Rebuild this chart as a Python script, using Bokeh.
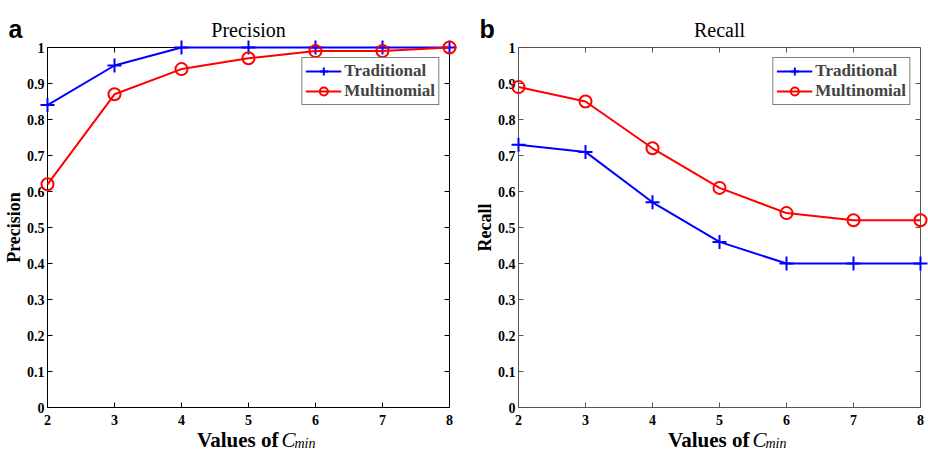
import math
from bokeh.plotting import figure
from bokeh.layouts import row
from bokeh.models import Range1d, FixedTicker, Legend, LegendItem
from bokeh.core.properties import value
from bokeh.embed import file_html
from bokeh.resources import INLINE

# ---- data ----
c_min = [2, 3, 4, 5, 6, 7, 8]
precision_traditional = [0.84, 0.95, 1.00, 1.00, 1.00, 1.00, 1.00]
precision_multinomial = [0.62, 0.87, 0.94, 0.97, 0.99, 0.99, 1.00]
recall_traditional = [0.73, 0.71, 0.57, 0.46, 0.40, 0.40, 0.40]
recall_multinomial = [0.89, 0.85, 0.72, 0.61, 0.54, 0.52, 0.52]
x_ticks = [2, 3, 4, 5, 6, 7, 8]
y_ticks = [0, 0.1, 0.2, 0.3, 0.4, 0.5, 0.6, 0.7, 0.8, 0.9, 1]
y_tick_labels = ["0", "0.1", "0.2", "0.3", "0.4", "0.5", "0.6", "0.7", "0.8", "0.9", "1"]
series_names = ["Traditional", "Multinomial"]

SERIF = "Liberation Serif"
BLUE = "#0000ff"
RED = "#ff0000"
FRAME_W = 402
FRAME_H = 360
TICK = 5  # px, inward


def style_axis(ax, ticks, color, standoff, labels=None):
    ax.ticker = FixedTicker(ticks=ticks)
    ax.minor_tick_line_color = None
    ax.major_tick_in = TICK
    ax.major_tick_out = 0
    ax.major_tick_line_color = color
    ax.axis_line_color = color
    ax.major_label_text_font = SERIF
    ax.major_label_text_font_style = "bold"
    ax.major_label_text_color = "black"
    ax.major_label_text_font_size = "14px"
    ax.major_label_standoff = standoff
    if labels is not None:
        ax.major_label_overrides = {t: l for t, l in zip(ticks, labels)}


def make_panel(letter, title, ylabel, trad, multi, width, border_left, border_right, color):
    p = figure(width=width, height=450, x_range=Range1d(2, 8), y_range=Range1d(0, 1),
               output_backend="svg", toolbar_location=None,
               min_border_left=border_left, min_border_right=border_right,
               min_border_top=47, min_border_bottom=450 - 47 - FRAME_H)
    p.grid.visible = False
    p.outline_line_color = color
    p.outline_line_width = 1
    p.background_fill_color = "white"
    p.border_fill_color = "white"

    style_axis(p.xaxis[0], x_ticks, color, 7)
    style_axis(p.yaxis[0], y_ticks, color, 3, y_tick_labels)

    # mirrored inward ticks on the top and right edges of the box
    dy = TICK / FRAME_H
    dx = TICK * (8 - 2) / FRAME_W
    p.segment(x0=x_ticks, y0=[1] * len(x_ticks), x1=x_ticks, y1=[1 - dy] * len(x_ticks),
              line_color=color, line_width=1)
    p.segment(x0=[8] * len(y_ticks), y0=y_ticks, x1=[8 - dx] * len(y_ticks), y1=y_ticks,
              line_color=color, line_width=1)

    l1 = p.line(c_min, trad, line_color=BLUE, line_width=2, level="overlay")
    s1 = p.scatter(c_min, trad, marker="cross", size=14, line_color=BLUE, line_width=2,
                   level="overlay")
    l2 = p.line(c_min, multi, line_color=RED, line_width=2, level="overlay")
    s2 = p.scatter(c_min, multi, marker="circle", size=12, line_color=RED, fill_color=None,
                   line_width=2, level="overlay")

    legend = Legend(items=[LegendItem(label=series_names[0], renderers=[l1, s1]),
                           LegendItem(label=series_names[1], renderers=[l2, s2])],
                    location="top_right", margin=10, padding=3, spacing=0,
                    glyph_width=36, glyph_height=20, label_height=20, label_standoff=3,
                    label_text_font=SERIF, label_text_font_style="bold",
                    label_text_font_size="17px", border_line_color="black",
                    border_line_width=1, background_fill_alpha=1.0)
    p.add_layout(legend)

    def txt(x, y, t, dx_px=0, dy_px=0, font=SERIF, style="normal", size="14px",
            align="left", baseline="alphabetic", angle=0.0):
        p.text(x=[x], y=[y], text=[t], x_offset=dx_px, y_offset=dy_px,
               text_font=value(font), text_font_style=style, text_font_size=size,
               text_align=align, text_baseline=baseline, angle=angle,
               text_color="black", level="overlay")

    # panel letter
    txt(2, 1, letter, -39, -19, font="Liberation Sans", style="bold", size="25px")
    # title
    txt(5, 1, title, 0, -18, size="20px", align="center")
    # y-axis label
    txt(2, 0.5, ylabel, -34, 0, style="bold", size="18px", align="center",
        baseline="middle", angle=math.pi / 2)
    # x-axis label: "Values of C_min"
    txt(5, 0, "Values of", 30, 32, style="bold", size="21px", align="right")
    txt(5, 0, "C", 33, 32, style="italic", size="21px")
    txt(5, 0, "min", 46, 36, style="italic", size="14px")
    return p


p1 = make_panel("a", "Precision", "Precision", precision_traditional, precision_multinomial,
                470, 47, 470 - 47 - FRAME_W, "black")
p2 = make_panel("b", "Recall", "Recall", recall_traditional, recall_multinomial,
                458, 48, 458 - 48 - FRAME_W, "#555555")

layout = row(p1, p2)
open("out.html", "w").write(file_html(layout, INLINE))
